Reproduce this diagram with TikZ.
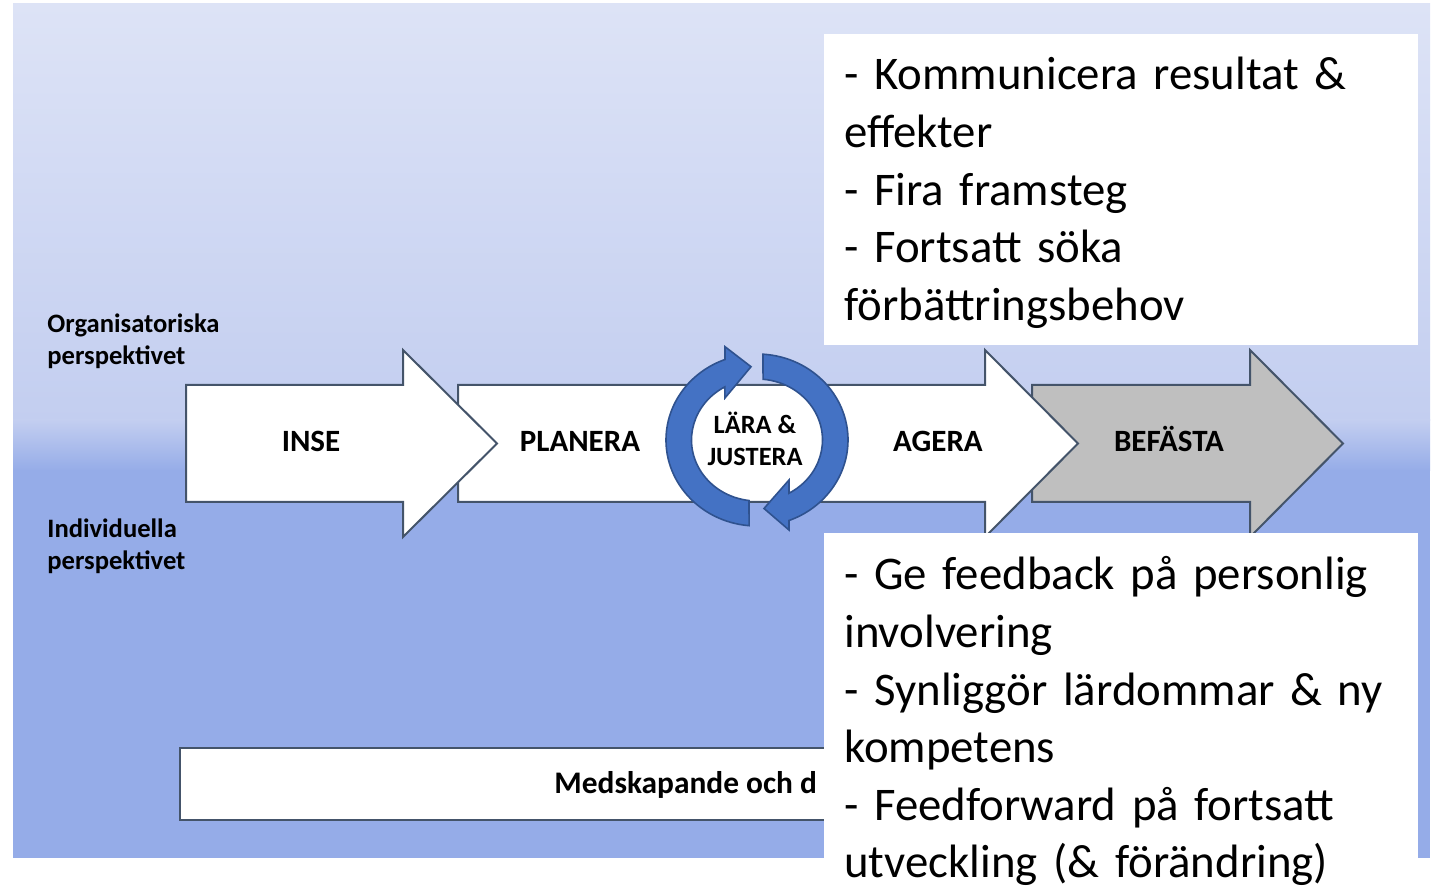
\documentclass[tikz,border=0pt]{standalone}
\usepackage{fontspec}
\setmainfont{Carlito}
\newfontfamily\notefont{Carlito}[WordSpace=0.85]

\definecolor{panelTop}{HTML}{DDE3F6}
\definecolor{panelMid}{HTML}{C3CEF0}
\definecolor{panelLow}{HTML}{95ACE8}
\definecolor{shapeLine}{HTML}{44546A}
\definecolor{cycleFill}{HTML}{4472C4}
\definecolor{cycleLine}{HTML}{2F528F}
\definecolor{stepGrey}{HTML}{BFBFBF}

\tikzset{
    stagearrow/.style={draw=shapeLine, line width=1pt, fill=white},
    stagelabel/.style={font=\fontsize{15.5}{18}\selectfont\bfseries, anchor=base},
    sidelabel/.style={font=\fontsize{13.3}{16}\selectfont\bfseries, align=left, anchor=west, inner sep=0pt},
    cyclearrow/.style={draw=cycleLine, line width=0.8pt, fill=cycleFill},
    notebox/.style={fill=white, draw=none},
    notetext/.style={font=\notefont\fontsize{23.4}{28.8}\selectfont, text width=285pt, align=left, anchor=base west, inner sep=0pt}
}

\begin{document}
\begin{tikzpicture}[x=0.5pt, y=0.5pt]

            \useasboundingbox (0, 0) rectangle (1437, -887);

            % Background panel
            \shade [top color=panelTop, bottom color=panelMid] (13, -4) rectangle (1430, -421);
            \shade [top color=panelMid, bottom color=panelLow] (13, -420) rectangle (1430, -471);
            \fill [panelLow] (13, -470) rectangle (1430, -858);

            %% Perspectives
            \node (org) at (47, -341) [sidelabel] {Organisatoriska\\perspektivet};
            \node (ind) at (47, -546) [sidelabel] {Individuella\\perspektivet};

            % Step arrows
            %% Befasta
            \draw [stagearrow, fill=stepGrey] (1032, -385) -- (1250, -385) -- (1250, -350)
                -- (1343, -443.5) -- (1250, -537) -- (1250, -502) -- (1032, -502) -- cycle;

            %% Planera and agera
            \draw [stagearrow] (458, -385) -- (985, -385) -- (985, -350)
                -- (1078, -443.5) -- (985, -537) -- (985, -502) -- (458, -502) -- cycle;

            %% Inse
            \draw [stagearrow] (186, -385) -- (403, -385) -- (403, -350)
                -- (497, -443.5) -- (403, -537) -- (403, -502) -- (186, -502) -- cycle;

            %% Labels
            \node (inse) at (311, -452) [stagelabel] {INSE};
            \node (planera) at (580, -452) [stagelabel] {PLANERA};
            \node (agera) at (938, -452) [stagelabel] {AGERA};
            \node (befasta) at (1169, -452) [stagelabel] {BEFÄSTA};

            % Cycle
            \draw [cyclearrow] ({757+91*cos(265)}, {-440+86*sin(265)})
                arc [start angle=265, end angle=110.6, x radius=91, y radius=86]
                -- (725, -346.7) -- (751, -366.7) -- (725, -398)
                -- ({757+65.5*cos(119.5)}, {-440+61*sin(119.5)})
                arc [start angle=119.5, end angle=263, x radius=65.5, y radius=61] -- cycle;
            \draw [cyclearrow] ({757+91*cos(86.2)}, {-440+86*sin(86.2)})
                arc [start angle=86.2, end angle=-69.4, x radius=91, y radius=86]
                -- (789, -530) -- (764, -508.5) -- (789, -480)
                -- ({757+65.5*cos(-60.8)}, {-440+61*sin(-60.8)})
                arc [start angle=-60.8, end angle=84.7, x radius=65.5, y radius=61] -- cycle;
            \node (lara) at (755, -439) [font=\fontsize{13.2}{16}\selectfont\bfseries, align=center] {LÄRA \&\\JUSTERA};

            % Bottom bar
            \draw [stagearrow] (180, -748) rectangle (1000, -820);
            \node (medskap) at (554, -794) [font=\fontsize{15.7}{18}\selectfont\bfseries, anchor=base west, inner sep=0pt] {Medskapande och d};

            % Notes
            %% Organisational
            \fill [notebox] (824, -34) rectangle (1418, -345);
            \node (orgnote) at (844, -90) [notetext] {- Kommunicera resultat \&\\effekter\\- Fira framsteg\\- Fortsatt söka\\förbättringsbehov};

            %% Individual
            \fill [notebox] (824, -533) rectangle (1418, -900);
            \node (indnote) at (844, -590) [notetext] {- Ge feedback på personlig\\involvering\\- Synliggör lärdommar \& ny\\kompetens\\- Feedforward på fortsatt\\utveckling (\& förändring)};
        \end{tikzpicture}
\end{document}
